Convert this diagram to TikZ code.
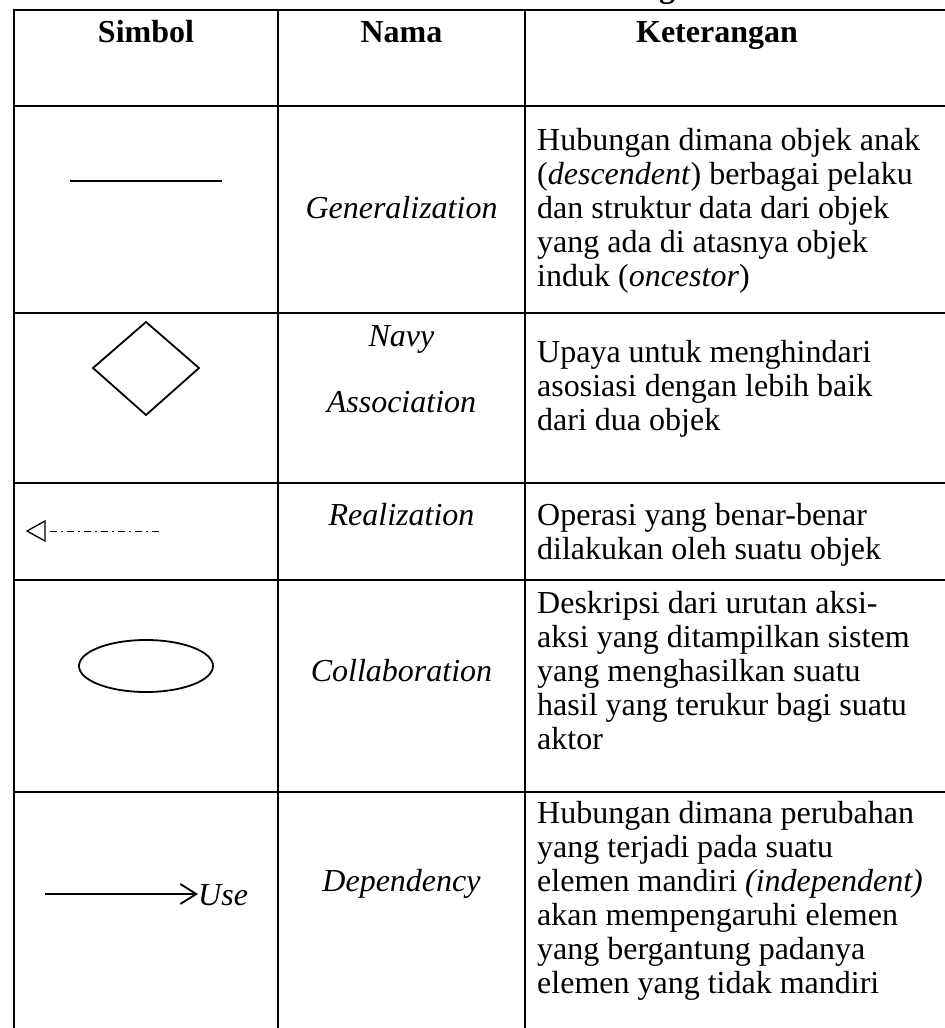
\documentclass[tikz,border=0pt]{standalone}
\usepackage{fontspec}
\setmainfont{Liberation Serif}
\usetikzlibrary{arrows.meta,shapes.geometric}

% one line of the description column per node, 34pt apart
\newcommand\ketlines[3]{%
  \foreach \t [count=\i from 0] in {#3}
    \node[ket] (#1-\i) at (537,{#2+34*\i}) {\t};}

\begin{document}
\begin{tikzpicture}[x=1pt,y=-1pt,
  grid/.style={line width=2.2pt},
  sym/.style={line width=1.8pt},
  txt/.style={font=\fontsize{32}{34}\selectfont, inner sep=0},
  head/.style={txt, font=\fontsize{32}{34}\selectfont\bfseries, anchor=base},
  nama/.style={txt, font=\fontsize{32}{34}\selectfont\itshape, anchor=base},
  ket/.style={txt, anchor=base west},
]
\useasboundingbox (0,0) rectangle (945,1028);
\clip (0,0) rectangle (945,1028);

% tail of the caption above the table
\node[head] (cap) at (667,-3) {g};

% table rules
\draw[grid] (14,1040) -- (14,10) -- (960,10);
\draw[grid] (278,10) -- (278,1040);
\draw[grid] (525,10) -- (525,1040);
\foreach \y in {106,313,483,580,792}
  \draw[grid] (14,\y) -- (960,\y);

% header
\node[head] (h1) at (146,42) {Simbol};
\node[head] (h2) at (401.5,42) {Nama};
\node[head] (h3) at (717,42) {Keterangan};

% row 1: generalization
\draw[sym] (70,181) -- (222,181);
\node[nama] (n1) at (401.5,218) {Generalization};
\ketlines{k1}{150}{Hubungan dimana objek anak,
  {(\textit{descendent}) berbagai pelaku},
  dan struktur data dari objek,
  yang ada di atasnya objek,
  {induk (\textit{oncestor})}}

% row 2: navy association
\draw[sym, line join=miter] (93,368) -- (146,322) -- (199,368) -- (146,415) -- cycle;
\node[nama] (n2a) at (401.5,346) {Navy};
\node[nama] (n2b) at (401.5,412) {Association};
\ketlines{k2}{362}{Upaya untuk menghindari,
  asosiasi dengan lebih baik,
  dari dua objek}

% row 3: realization
\draw[line width=1.3pt, line join=miter] (45,521) -- (27,531) -- (45,541) -- cycle;
\draw[line width=1pt, dash pattern=on 7pt off 4pt on 2pt off 4pt] (50,531) -- (162,531);
\node[nama] (n3) at (401.5,525) {Realization};
\ketlines{k3}{525}{Operasi yang benar-benar,
  dilakukan oleh suatu objek}

% row 4: collaboration
\draw[sym] (146,666) ellipse [x radius=67, y radius=26];
\node[nama] (n4) at (401.5,681) {Collaboration};
\ketlines{k4}{613}{Deskripsi dari urutan aksi-,
  aksi yang ditampilkan sistem,
  yang menghasilkan suatu,
  hasil yang terukur bagi suatu,
  aktor}

% row 5: dependency
\node[txt, font=\fontsize{32}{34}\selectfont\itshape, anchor=base west] (use) at (198,905) {Use};
\coordinate (src) at (45,894);
\draw[sym, -{Straight Barb[length=16pt,width=20pt,line width=1.8pt]}] (src) -- (use.west |- src);
\node[nama] (n5) at (401.5,891) {Dependency};
\ketlines{k5}{823}{Hubungan dimana perubahan,
  yang terjadi pada suatu,
  {elemen mandiri \textit{(independent)}},
  akan mempengaruhi elemen,
  yang bergantung padanya,
  elemen yang tidak mandiri}
\end{tikzpicture}
\end{document}
